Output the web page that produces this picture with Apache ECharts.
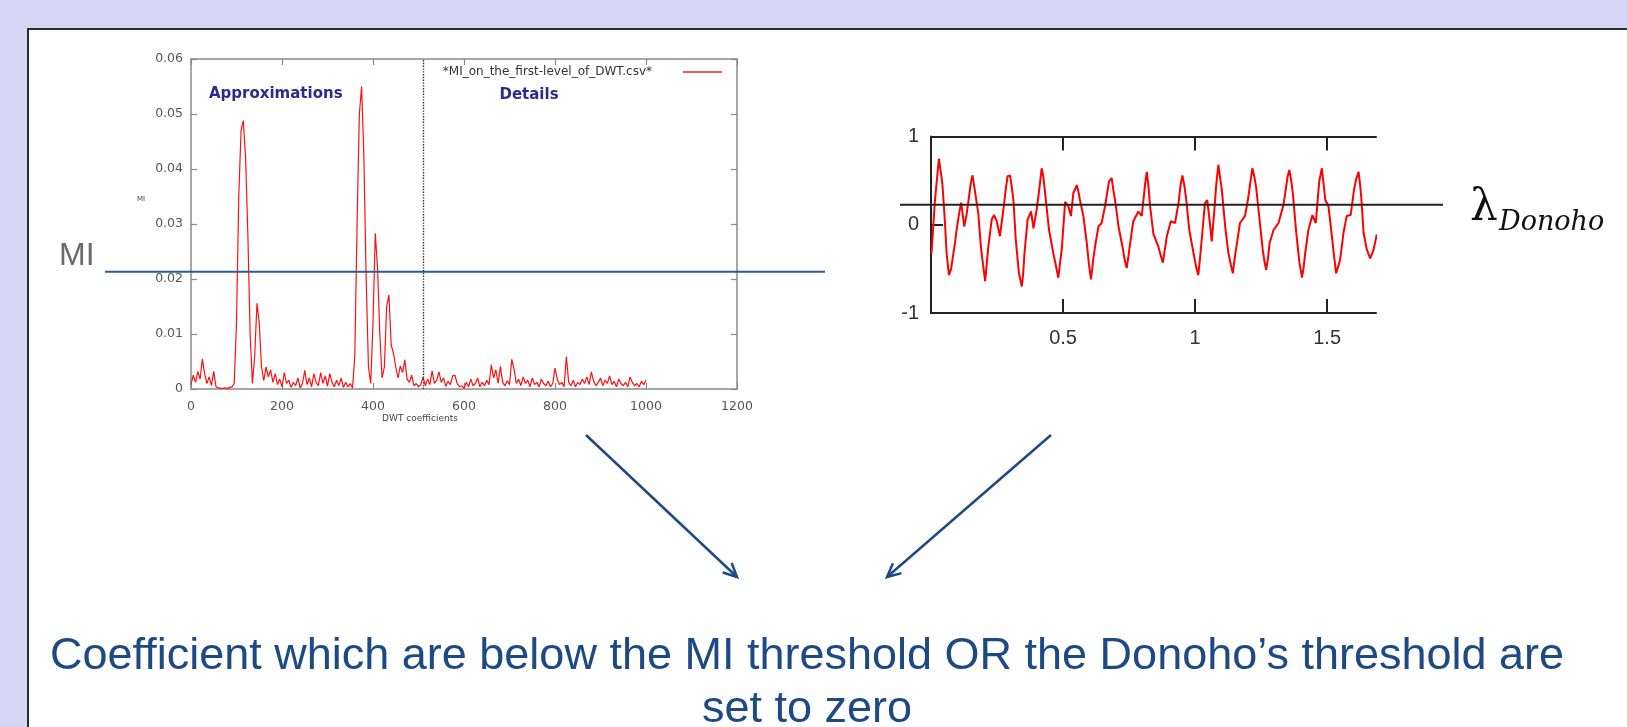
<!DOCTYPE html>
<html><head><meta charset="utf-8">
<script src="https://cdn.jsdelivr.net/npm/echarts@6/dist/echarts.min.js"></script>
<style>html,body{margin:0;padding:0;background:#d6d6f4;overflow:hidden}#c{width:1627px;height:727px}</style>
</head><body><div id="c"></div>
<script>
// ---------- data ----------
const miStep = 5; // DWT coefficient index spacing of the samples below
const miValues = [
  0.0008,0.0025,0.0012,0.0032,0.0018,0.0055,0.0028,0.0010,0.0022,0.0006,0.0032,0.0004,0.0002,0.0001,0.0001,0.0002,0.0001,0.0003,0.0004,0.0010,
  0.0120,0.0350,0.0470,0.0488,0.0420,0.0280,0.0100,0.0010,0.0060,0.0156,0.0120,0.0040,0.0015,0.0040,0.0022,0.0035,0.0012,0.0028,0.0008,0.0018,
  0.0004,0.0030,0.0010,0.0016,0.0003,0.0012,0.0006,0.0020,0.0002,0.0010,0.0034,0.0008,0.0020,0.0004,0.0028,0.0012,0.0006,0.0030,0.0010,0.0024,
  0.0005,0.0028,0.0012,0.0004,0.0016,0.0006,0.0020,0.0003,0.0012,0.0004,0.0010,0.0002,0.0060,0.0300,0.0500,0.0550,0.0420,0.0200,0.0040,0.0010,
  0.0120,0.0283,0.0220,0.0100,0.0020,0.0040,0.0150,0.0171,0.0080,0.0065,0.0040,0.0020,0.0042,0.0030,0.0053,0.0018,0.0012,0.0025,0.0006,0.0010,
  0.0004,0.0008,0.0022,0.0006,0.0018,0.0008,0.0033,0.0010,0.0016,0.0031,0.0012,0.0020,0.0005,0.0014,0.0008,0.0024,0.0025,0.0010,0.0004,0.0006,
  0.0001,0.0012,0.0004,0.0018,0.0006,0.0010,0.0020,0.0004,0.0012,0.0006,0.0016,0.0008,0.0044,0.0020,0.0035,0.0010,0.0041,0.0012,0.0006,0.0015,
  0.0008,0.0054,0.0036,0.0010,0.0018,0.0006,0.0022,0.0010,0.0016,0.0004,0.0020,0.0008,0.0012,0.0004,0.0018,0.0010,0.0006,0.0014,0.0004,0.0010,
  0.0038,0.0018,0.0008,0.0012,0.0004,0.0059,0.0012,0.0006,0.0016,0.0004,0.0012,0.0008,0.0018,0.0010,0.0022,0.0008,0.0031,0.0014,0.0006,0.0012,
  0.0020,0.0006,0.0016,0.0010,0.0024,0.0008,0.0014,0.0004,0.0018,0.0010,0.0006,0.0012,0.0004,0.0022,0.0012,0.0006,0.0010,0.0004,0.0014,0.0008,
  0.0016
];
const miSeriesName = '*MI_on_the_first-level_of_DWT.csv*';
const miThreshold = 0.0213;
const detailsStart = 510;
const miXTicks = [0, 200, 400, 600, 800, 1000, 1200];
const miYTicks = [0, 0.01, 0.02, 0.03, 0.04, 0.05, 0.06];

const donohoSignal = [
  [0.002,-0.32],[0.008,-0.05],[0.015,0.28],[0.022,0.30],[0.030,0.75],[0.036,0.62],[0.043,0.47],[0.048,0.45],[0.053,0.02],[0.059,-0.32],
  [0.068,-0.57],[0.076,-0.50],[0.085,-0.32],[0.091,-0.20],[0.097,-0.06],[0.105,0.10],[0.114,0.25],[0.120,0.12],[0.126,-0.02],[0.134,0.10],
  [0.144,0.32],[0.150,0.46],[0.157,0.56],[0.163,0.45],[0.169,0.43],[0.179,0.13],[0.189,-0.25],[0.197,-0.45],[0.205,-0.64],[0.211,-0.45],
  [0.217,-0.25],[0.230,0.06],[0.239,0.11],[0.249,0.04],[0.261,-0.13],[0.274,0.17],[0.283,0.40],[0.290,0.55],[0.299,0.56],[0.305,0.45],
  [0.312,0.28],[0.321,-0.17],[0.333,-0.55],[0.344,-0.70],[0.349,-0.55],[0.354,-0.32],[0.366,0.06],[0.379,0.15],[0.388,-0.04],[0.400,0.17],
  [0.410,0.40],[0.419,0.64],[0.425,0.55],[0.432,0.36],[0.447,-0.06],[0.463,-0.32],[0.472,-0.45],[0.482,-0.60],[0.495,-0.28],[0.508,0.26],
  [0.520,0.21],[0.530,0.10],[0.539,0.36],[0.552,0.45],[0.558,0.38],[0.564,0.28],[0.577,0.10],[0.590,-0.21],[0.598,-0.45],[0.606,-0.62],
  [0.614,-0.40],[0.621,-0.25],[0.634,-0.02],[0.646,0.02],[0.659,0.21],[0.674,0.49],[0.684,0.53],[0.690,0.40],[0.697,0.28],[0.710,-0.02],
  [0.725,-0.25],[0.735,-0.42],[0.741,-0.49],[0.748,-0.35],[0.754,-0.21],[0.766,0.04],[0.785,0.15],[0.798,0.10],[0.811,0.47],[0.817,0.60],
  [0.823,0.45],[0.830,0.20],[0.842,-0.10],[0.861,-0.25],[0.870,-0.35],[0.878,-0.43],[0.893,-0.13],[0.908,0.04],[0.924,0.02],[0.937,0.24],
  [0.945,0.45],[0.952,0.56],[0.959,0.45],[0.966,0.30],[0.978,-0.06],[0.994,-0.32],[1.004,-0.48],[1.012,-0.57],[1.018,-0.40],[1.025,-0.17],
  [1.037,0.24],[1.046,0.28],[1.056,0.02],[1.063,-0.19],[1.072,0.13],[1.080,0.45],[1.088,0.68],[1.094,0.55],[1.101,0.40],[1.114,-0.02],
  [1.126,-0.32],[1.135,-0.45],[1.143,-0.55],[1.149,-0.40],[1.155,-0.28],[1.170,0.02],[1.189,0.10],[1.202,0.32],[1.210,0.50],[1.217,0.64],
  [1.224,0.55],[1.231,0.43],[1.244,0.06],[1.256,-0.28],[1.263,-0.42],[1.269,-0.51],[1.276,-0.38],[1.282,-0.21],[1.297,-0.06],[1.316,0.02],
  [1.335,0.23],[1.350,0.54],[1.357,0.62],[1.364,0.50],[1.370,0.36],[1.383,-0.09],[1.395,-0.43],[1.405,-0.60],[1.411,-0.48],[1.417,-0.32],
  [1.429,-0.06],[1.444,0.11],[1.457,0.02],[1.470,0.49],[1.480,0.64],[1.487,0.45],[1.493,0.28],[1.505,0.21],[1.518,-0.13],[1.526,-0.35],
  [1.534,-0.55],[1.541,-0.48],[1.549,-0.40],[1.562,-0.09],[1.574,0.10],[1.589,0.11],[1.602,0.40],[1.610,0.52],[1.619,0.60],[1.625,0.45],
  [1.629,0.32],[1.638,-0.09],[1.650,-0.28],[1.663,-0.38],[1.676,-0.28],[1.688,-0.11]
];
const donohoThreshold = 0.226;
const donohoXTicks = [0.5, 1, 1.5];
const donohoYTicks = [-1, 0, 1];

const labelApprox = 'Approximations';
const labelDetails = 'Details';
const labelMI = 'MI';
const conclusionLines = [
  'Coefficient which are below the MI threshold OR the Donoho\u2019s threshold are',
  'set to zero'
];

// ---------- chart ----------
const chart = echarts.init(document.getElementById('c'), null, {renderer: 'canvas'});
const miPoints = miValues.map((v, i) => [i * miStep, v]);
const gray = '#8a8a8a';
const boxAxis = (extra) => Object.assign({
  type: 'value', splitLine: {show: false},
  axisLine: {onZero: false, lineStyle: {color: gray, width: 1.5}},
  axisTick: {inside: true, length: 6, lineStyle: {color: gray, width: 1.2}},
  axisLabel: {show: false}
}, extra);

const option = {
  animation: false,
  backgroundColor: '#d6d6f4',
  grid: [
    {left: 191, top: 59, width: 546, height: 330},
    {left: 931, top: 136.5, width: 445, height: 176.5}
  ],
  legend: {
    data: [miSeriesName], right: 905, top: 66, padding: 0, align: 'right',
    icon: 'rect', itemWidth: 39, itemHeight: 2,
    itemStyle: {color: '#ff5555'},
    textStyle: {fontSize: 12, color: '#333', fontFamily: 'DejaVu Sans', padding: [0, 26, 0, 0]}
  },
  xAxis: [
    boxAxis({gridIndex: 0, min: miXTicks[0], max: miXTicks[miXTicks.length - 1], interval: 200, position: 'bottom',
      axisLabel: {show: true, color: '#555', fontSize: 12.5, fontFamily: 'DejaVu Sans', margin: 11, formatter: v => String(v)},
      name: 'DWT coefficients', nameLocation: 'middle', nameGap: 23,
      nameTextStyle: {fontSize: 9, color: '#444', fontFamily: 'DejaVu Sans', padding: [0, 88, 0, 0]}}),
    boxAxis({gridIndex: 0, min: miXTicks[0], max: miXTicks[miXTicks.length - 1], interval: 200, position: 'top'}),
    {gridIndex: 1, type: 'value', min: 0, max: 1.685, position: 'bottom', splitLine: {show: false},
      axisLine: {onZero: false, lineStyle: {color: '#222', width: 2}},
      axisTick: {inside: true, length: 14, customValues: donohoXTicks, lineStyle: {color: '#222', width: 2}},
      axisLabel: {customValues: donohoXTicks, formatter: v => String(v), color: '#333', fontSize: 20, fontFamily: 'Liberation Sans', margin: 15}},
    {gridIndex: 1, type: 'value', min: 0, max: 1.685, position: 'top', splitLine: {show: false},
      axisLine: {onZero: false, lineStyle: {color: '#222', width: 2}},
      axisTick: {inside: true, length: 14, customValues: donohoXTicks, lineStyle: {color: '#222', width: 2}},
      axisLabel: {show: false}}
  ],
  yAxis: [
    boxAxis({gridIndex: 0, min: miYTicks[0], max: miYTicks[miYTicks.length - 1], interval: 0.01, position: 'left',
      axisLabel: {show: true, color: '#555', fontSize: 12.5, fontFamily: 'DejaVu Sans', margin: 8,
        formatter: v => v === 0 ? '0' : v.toFixed(2)}}),
    boxAxis({gridIndex: 0, min: miYTicks[0], max: miYTicks[miYTicks.length - 1], interval: 0.01, position: 'right'}),
    {gridIndex: 1, type: 'value', min: donohoYTicks[0], max: donohoYTicks[2], interval: 1, position: 'left', splitLine: {show: false},
      axisLine: {onZero: false, lineStyle: {color: '#222', width: 2}},
      axisTick: {inside: true, length: 12, customValues: [0], lineStyle: {color: '#222', width: 2}},
      axisLabel: {customValues: donohoYTicks, formatter: v => String(v), color: '#333', fontSize: 20, fontFamily: 'Liberation Sans', margin: 12}}
  ],
  series: [
    {name: miSeriesName, type: 'line', xAxisIndex: 0, yAxisIndex: 0, data: miPoints, showSymbol: false,
      lineStyle: {color: '#ff1010', width: 1.2}, itemStyle: {color: '#ff1010'}, z: 3,
      markLine: {silent: true, symbol: 'none', label: {show: false},
        lineStyle: {type: 'dotted', color: '#333', width: 1.4}, data: [{xAxis: detailsStart}]}},
    {name: 'signal', type: 'line', xAxisIndex: 2, yAxisIndex: 2, data: donohoSignal, showSymbol: false,
      lineStyle: {color: '#ff0000', width: 2}, z: 3}
  ]
};

function arrow(id, x1, y1, x2, y2, color) {
  const a = Math.atan2(y2 - y1, x2 - x1), L = 15, th = 0.45;
  const w1 = [x2 - L * Math.cos(a - th), y2 - L * Math.sin(a - th)];
  const w2 = [x2 - L * Math.cos(a + th), y2 - L * Math.sin(a + th)];
  return [
    {type: 'line', id: id + 'l', shape: {x1, y1, x2, y2}, style: {stroke: color, lineWidth: 2.5}},
    {type: 'polyline', id: id + 'h', shape: {points: [w1, [x2, y2], w2]}, style: {stroke: color, lineWidth: 2.5, fill: null}}
  ];
}

function baseGraphics() {
  const navy = '#1d4a84';
  return [
    {type: 'rect', id: 'panel', z: -10, shape: {x: 28, y: 29, width: 1640, height: 740},
      style: {fill: '#ffffff', stroke: '#2b2b2b', lineWidth: 2}},
    {type: 'text', id: 'miBig', x: 59, y: 256, style: {text: labelMI, fontSize: 32, fontFamily: 'Liberation Sans', fill: '#6a6a6a', verticalAlign: 'middle'}},
    {type: 'text', id: 'miSmall', x: 141, y: 199, style: {text: labelMI, fontSize: 7, fontFamily: 'DejaVu Sans', fill: '#444', align: 'center', verticalAlign: 'middle'}},
    {type: 'text', id: 'approx', x: 209, y: 94, style: {text: labelApprox, fontSize: 15, fontWeight: 'bold', fontFamily: 'DejaVu Sans', fill: '#2b2b8c', verticalAlign: 'middle'}},
    {type: 'text', id: 'details', x: 529, y: 95, style: {text: labelDetails, fontSize: 15, fontWeight: 'bold', fontFamily: 'DejaVu Sans', fill: '#2b2b8c', align: 'center', verticalAlign: 'middle'}},
    {type: 'text', id: 'lambda', x: 1470, y: 209, style: {text: '\u03bb', fontSize: 44, fontFamily: 'DejaVu Serif', fill: '#111', verticalAlign: 'middle'}},
    {type: 'text', id: 'donoho', x: 1499, y: 223, style: {text: 'Donoho', fontSize: 27, fontStyle: 'italic', fontFamily: 'DejaVu Serif', fill: '#111', verticalAlign: 'middle'}},
    {type: 'text', id: 'concl1', x: 807, y: 657, style: {text: conclusionLines[0], fontSize: 45, fontFamily: 'Liberation Sans', fill: navy, align: 'center', verticalAlign: 'middle'}},
    {type: 'text', id: 'concl2', x: 807, y: 710, style: {text: conclusionLines[1], fontSize: 45, fontFamily: 'Liberation Sans', fill: navy, align: 'center', verticalAlign: 'middle'}}
  ].concat(arrow('a1', 586, 435, 737, 577, navy), arrow('a2', 1051, 435, 887, 577, navy));
}

option.graphic = baseGraphics();
chart.setOption(option);

const miY = chart.convertToPixel({xAxisIndex: 0, yAxisIndex: 0}, [0, miThreshold])[1];
const lamY = chart.convertToPixel({xAxisIndex: 2, yAxisIndex: 2}, [0, donohoThreshold])[1];
chart.setOption({graphic: baseGraphics().concat([
  {type: 'line', id: 'miLine', z: 5, shape: {x1: 105, y1: miY, x2: 825, y2: miY}, style: {stroke: '#2a5d95', lineWidth: 2}},
  {type: 'line', id: 'lamLine', z: 5, shape: {x1: 900, y1: lamY, x2: 1443, y2: lamY}, style: {stroke: '#222', lineWidth: 2}}
])});
</script></body></html>
